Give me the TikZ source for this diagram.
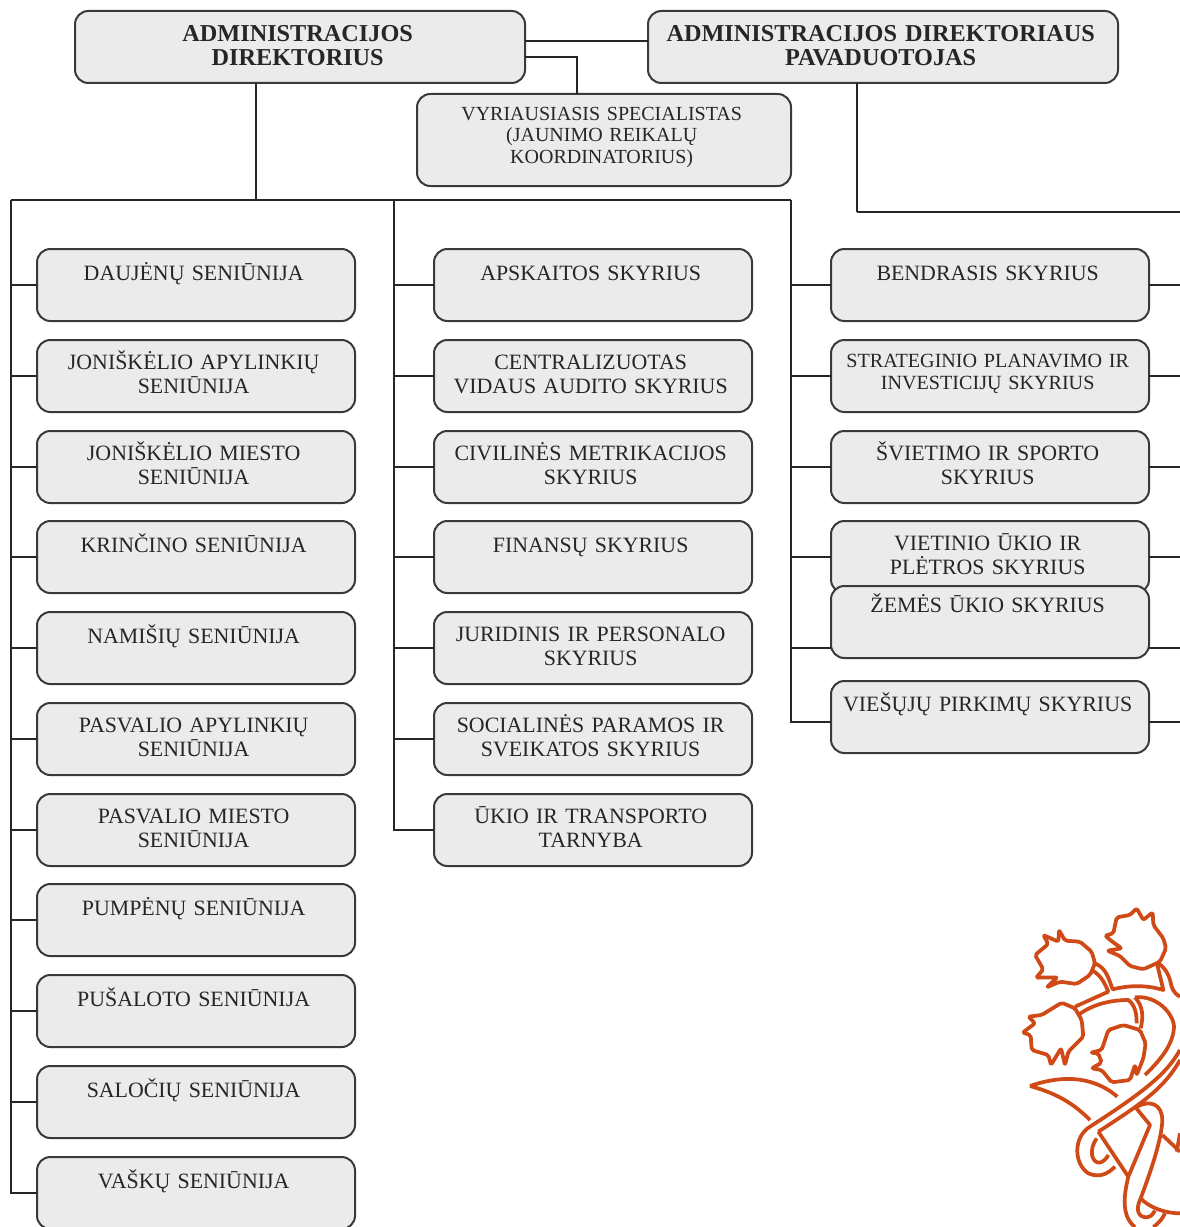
\documentclass[tikz,border=0pt]{standalone}
\usepackage{fontspec}
\setmainfont{Liberation Serif}
\usepackage{tikz}
\definecolor{boxfill}{HTML}{EBEBEB}
\definecolor{boxline}{HTML}{3A3A3A}
\definecolor{logoline}{HTML}{CF4A17}
\tikzset{
  boxlift/.code={\def\boxlift{#1}},
  orgbox/.style={draw=boxline,fill=boxfill,line width=1.5pt,rounded corners=10pt,anchor=north west,
    boxlift=1.5pt,inner sep=0pt,outer sep=0pt,text=black!85,font=\fontsize{16.4}{18}\selectfont,
    execute at begin node={\parindent=0pt\leftskip=0pt plus 1fil\rightskip=3.5pt plus 1fil\parfillskip=0pt\rule{0pt}{15pt}},
    execute at end node={\rule[-5pt]{0pt}{5pt}\par\kern\boxlift}},
  unitbox/.style={orgbox,minimum width=238.5pt,text width=238.5pt,minimum height=54pt},
  smallbox/.style={boxlift=6pt,font=\fontsize{15.1}{16.5}\selectfont},
  headbox/.style={orgbox,boxlift=0pt,minimum height=54pt,font=\fontsize{18.2}{18.4}\selectfont\bfseries},
  link/.style={draw=black!85,line width=1.4pt},
  logo/.style={draw=logoline,line width=2.8pt,line join=round}
}
\begin{document}
\begin{tikzpicture}[x=0.75pt,y=-0.75pt]
\useasboundingbox (0,0) rectangle (1180,1227);
\coordinate (edge) at (1180,0);
\coordinate (leftbus) at (11,200);
\coordinate (midbus) at (394,200);
\coordinate (rightbus) at (791,200);

\draw[link] (leftbus) -- (rightbus);
\coordinate (deputyturn) at (857,212);
\draw[link] (deputyturn) -- (deputyturn -| edge);

\node[headbox,minimum width=337.5pt,text width=337.5pt] (director) at (75,11) {ADMINISTRACIJOS\\DIREKTORIUS};
\node[headbox,minimum width=352.5pt,text width=352.5pt] (deputy) at (648,11) {ADMINISTRACIJOS DIREKTORIAUS\\PAVADUOTOJAS};
\node[orgbox,boxlift=7pt,minimum width=280.5pt,text width=280.5pt,minimum height=69pt,font=\fontsize{15}{16}\selectfont] (specialist) at (417,94) {VYRIAUSIASIS SPECIALISTAS\\(JAUNIMO REIKALŲ\\KOORDINATORIUS)};

\node[unitbox] (daujenai) at (37,249) {DAUJĖNŲ SENIŪNIJA\\[-3pt]~};
\node[unitbox] (joniskelisapyl) at (37,340) {JONIŠKĖLIO APYLINKIŲ\\SENIŪNIJA};
\node[unitbox] (joniskelismiest) at (37,431) {JONIŠKĖLIO MIESTO\\SENIŪNIJA};
\node[unitbox] (krincinas) at (37,521) {KRINČINO SENIŪNIJA\\[-3pt]~};
\node[unitbox] (namisiai) at (37,612) {NAMIŠIŲ SENIŪNIJA\\[-3pt]~};
\node[unitbox] (pasvalysapyl) at (37,703) {PASVALIO APYLINKIŲ\\SENIŪNIJA};
\node[unitbox] (pasvalysmiest) at (37,794) {PASVALIO MIESTO\\SENIŪNIJA};
\node[unitbox] (pumpenai) at (37,884) {PUMPĖNŲ SENIŪNIJA\\[-3pt]~};
\node[unitbox] (pusalotas) at (37,975) {PUŠALOTO SENIŪNIJA\\[-3pt]~};
\node[unitbox] (salociai) at (37,1066) {SALOČIŲ SENIŪNIJA\\[-3pt]~};
\node[unitbox] (vaskai) at (37,1157) {VAŠKŲ SENIŪNIJA\\[-3pt]~};

\node[unitbox] (apskaita) at (434,249) {APSKAITOS SKYRIUS\\[-3pt]~};
\node[unitbox] (auditas) at (434,340) {CENTRALIZUOTAS\\VIDAUS AUDITO SKYRIUS};
\node[unitbox] (metrikacija) at (434,431) {CIVILINĖS METRIKACIJOS\\SKYRIUS};
\node[unitbox] (finansai) at (434,521) {FINANSŲ SKYRIUS\\[-3pt]~};
\node[unitbox] (personalas) at (434,612) {JURIDINIS IR PERSONALO\\SKYRIUS};
\node[unitbox] (parama) at (434,703) {SOCIALINĖS PARAMOS IR\\SVEIKATOS SKYRIUS};
\node[unitbox] (transportas) at (434,794) {ŪKIO IR TRANSPORTO\\TARNYBA};

\node[unitbox] (bendrasis) at (831,249) {BENDRASIS SKYRIUS\\[-3pt]~};
\node[unitbox,smallbox] (planavimas) at (831,340) {STRATEGINIO PLANAVIMO IR\\INVESTICIJŲ SKYRIUS};
\node[unitbox] (svietimas) at (831,431) {ŠVIETIMO IR SPORTO\\SKYRIUS};
\node[unitbox] (pletra) at (831,521) {VIETINIO ŪKIO IR\\PLĖTROS SKYRIUS};
\node[unitbox] (zemes) at (831,586) {ŽEMĖS ŪKIO SKYRIUS\\[4.5pt]~};
\node[unitbox] (pirkimai) at (831,681) {VIEŠŲJŲ PIRKIMŲ SKYRIUS\\[-1.5pt]~};

\draw[link] (director.east |- 0,41) -- (deputy.west |- 0,41);
\coordinate (specialisttop) at (577,57);
\draw[link] (director.east |- specialisttop) -- (specialisttop) -- (specialisttop |- specialist.north);
\coordinate (directorleg) at (256,200);
\draw[link] (directorleg |- director.south) -- (directorleg);
\draw[link] (deputyturn |- deputy.south) -- (deputyturn);

\draw[link] (leftbus) |- (daujenai.west);
\draw[link] (leftbus) |- (joniskelisapyl.west);
\draw[link] (leftbus) |- (joniskelismiest.west);
\draw[link] (leftbus) |- (krincinas.west);
\draw[link] (leftbus) |- (namisiai.west);
\draw[link] (leftbus) |- (pasvalysapyl.west);
\draw[link] (leftbus) |- (pasvalysmiest.west);
\draw[link] (leftbus) |- (pumpenai.west);
\draw[link] (leftbus) |- (pusalotas.west);
\draw[link] (leftbus) |- (salociai.west);
\draw[link] (leftbus) |- (vaskai.west);

\draw[link] (midbus) |- (apskaita.west);
\draw[link] (midbus) |- (auditas.west);
\draw[link] (midbus) |- (metrikacija.west);
\draw[link] (midbus) |- (finansai.west);
\draw[link] (midbus) |- (personalas.west);
\draw[link] (midbus) |- (parama.west);
\draw[link] (midbus) |- (transportas.west);

\coordinate (zemesstub) at (0,648);
\coordinate (pirkimaistub) at (0,722);
\draw[link] (rightbus) |- (bendrasis.west);
\draw[link] (rightbus) |- (planavimas.west);
\draw[link] (rightbus) |- (svietimas.west);
\draw[link] (rightbus) |- (pletra.west);
\draw[link] (rightbus) |- (zemes.west |- zemesstub);
\draw[link] (rightbus) |- (pirkimai.west |- pirkimaistub);

\draw[link] (bendrasis.east) -- (bendrasis.east -| edge);
\draw[link] (planavimas.east) -- (planavimas.east -| edge);
\draw[link] (svietimas.east) -- (svietimas.east -| edge);
\draw[link] (pletra.east) -- (pletra.east -| edge);
\draw[link] (zemes.east |- zemesstub) -- (edge |- zemesstub);
\draw[link] (pirkimai.east |- pirkimaistub) -- (edge |- pirkimaistub);

\begin{scope}[shift={(980,880)},x=0.25pt,y=-0.25pt]
\clip (0,0) rectangle (600,1041);
\draw[logo,rounded corners=1.5pt] (470,85) -- (490,120) -- (518,97) -- (520,135) -- (550,175) -- (558,205) -- (540,245) -- (490,268) -- (450,258) -- (420,228) -- (382,212) -- (425,205) -- (397,185) -- (375,167) -- (400,160) -- (410,112) -- (450,105) -- cycle;
\draw[logo,rounded corners=1.5pt] (190,165) -- (235,185) -- (237,150) -- (255,182) -- (300,185) -- (335,215) -- (345,250) -- (330,285) -- (290,312) -- (240,305) -- (200,322) -- (232,292) -- (168,293) -- (190,268) -- (165,225) -- (205,192) -- cycle;
\draw[logo,rounded corners=1.5pt] (245,368) -- (285,385) -- (305,420) -- (310,470) -- (265,515) -- (255,555) -- (243,505) -- (213,555) -- (205,525) -- (155,510) -- (152,465) -- (128,458) -- (165,430) -- (145,410) -- (185,405) -- cycle;
\draw[logo,rounded corners=1.5pt] (430,435) -- (480,450) -- (497,490) -- (490,535) -- (470,585) -- (465,555) -- (450,600) -- (395,607) -- (365,570) -- (335,565) -- (365,548) -- (355,520) -- (332,518) -- (365,510) -- (385,450) -- cycle;
\draw[logo] (535,250) .. controls (565,270) and (570,300) .. (575,320) .. controls (580,335) and (590,345) .. (600,350);
\draw[logo] (345,250) .. controls (380,265) and (385,295) .. (398,328) .. controls (450,315) and (500,315) .. (550,330) -- (532,255);
\draw[logo] (335,270) .. controls (360,285) and (370,300) .. (385,335) -- (285,380);
\draw[logo] (295,405) .. controls (340,370) and (400,360) .. (445,360) .. controls (465,375) and (470,400) .. (470,430);
\draw[logo] (465,352) .. controls (490,380) and (490,410) .. (482,445);
\draw[logo] (465,352) .. controls (530,345) and (580,400) .. (582,440) .. controls (580,500) and (530,550) .. (495,585);
\draw[logo] (600,510) .. controls (560,580) and (500,630) .. (330,740) .. controls (280,770) and (280,850) .. (325,880) .. controls (360,895) and (385,880) .. (405,860);
\draw[logo] (355,755) .. controls (470,680) and (550,630) .. (600,540);
\draw[logo] (150,618) .. controls (230,590) and (330,580) .. (412,650);
\draw[logo] (150,618) .. controls (230,640) and (280,670) .. (330,720);
\draw[logo] (350,775) .. controls (325,810) and (335,850) .. (360,848) .. controls (370,845) and (380,835) .. (385,825);
\draw[logo] (355,755) -- (445,890) -- (510,735) -- (465,680);
\draw[logo] (470,680) .. controls (510,660) and (545,670) .. (547,720) .. controls (545,780) and (510,880) .. (482,955);
\draw[logo] (547,765) -- (600,815);
\draw[logo] (600,760) -- (590,815);
\draw[logo] (445,890) .. controls (430,950) and (425,1010) .. (465,1041);
\draw[logo] (482,955) .. controls (465,990) and (475,1012) .. (500,1012) .. controls (515,1010) and (520,1000) .. (525,992);
\draw[logo] (482,955) .. controls (510,985) and (560,1000) .. (600,1000);
\draw[logo] (555,1000) .. controls (545,1020) and (535,1030) .. (520,1041);
\end{scope}
\end{tikzpicture}
\end{document}
